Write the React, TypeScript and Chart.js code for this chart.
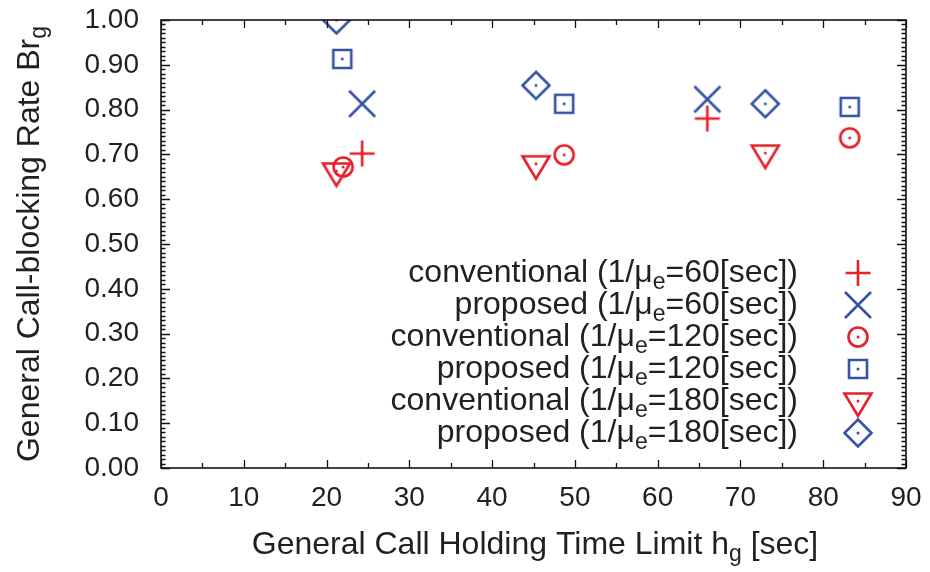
import React, { useEffect, useRef } from 'react';
import { Chart, registerables } from 'chart.js';

Chart.register(...registerables);

// ---- data ----
const seriesNames = ['conventional', 'proposed', 'conventional', 'proposed', 'conventional', 'proposed'];
const serviceTimes = ['60', '60', '120', '120', '180', '180'];

const conv60X = [24.3, 66.0];
const conv60Y = [0.702, 0.78];
const prop60X = [24.3, 66.0];
const prop60Y = [0.813, 0.823];
const conv120X = [22.0, 48.7, 83.2];
const conv120Y = [0.672, 0.699, 0.737];
const prop120X = [21.9, 48.7, 83.2];
const prop120Y = [0.913, 0.813, 0.806];
const conv180X = [21.2, 45.3, 73.0];
const conv180Y = [0.663, 0.679, 0.703];
const prop180X = [21.2, 45.3, 73.0];
const prop180Y = [1.0, 0.854, 0.813];

const xTickValues = [0, 10, 20, 30, 40, 50, 60, 70, 80, 90];
const xTickLabels = ['0', '10', '20', '30', '40', '50', '60', '70', '80', '90'];
const yTickValues = [0, 0.1, 0.2, 0.3, 0.4, 0.5, 0.6, 0.7, 0.8, 0.9, 1.0];
const yTickLabels = ['0.00', '0.10', '0.20', '0.30', '0.40', '0.50', '0.60', '0.70', '0.80', '0.90', '1.00'];

const xTitleMain = 'General Call Holding Time Limit h';
const xTitleSub = 'g';
const xTitleTail = ' [sec]';
const yTitleMain = 'General Call-blocking Rate Br';
const yTitleSub = 'g';

// ---- styles ----
const RED = '#e5202a';
const BLUE = '#3453a5';
const TEXT = '#231f20';
const FONT = '"Liberation Sans", Arial, Helvetica, sans-serif';
const markerKinds = ['plus', 'cross', 'circle', 'square', 'triDown', 'diamond'];
const markerColors = [RED, BLUE, RED, BLUE, RED, BLUE];

function makeMarker(kind: string, color: string): HTMLCanvasElement {
  const S = 36;
  const c = document.createElement('canvas');
  c.width = S;
  c.height = S;
  const g = c.getContext('2d')!;
  const m = S / 2;
  g.strokeStyle = color;
  g.fillStyle = color;
  g.lineWidth = 2.6;
  g.beginPath();
  if (kind === 'plus') {
    g.moveTo(m - 12.5, m); g.lineTo(m + 12.5, m);
    g.moveTo(m, m - 13); g.lineTo(m, m + 13);
    g.stroke();
    return c;
  }
  if (kind === 'cross') {
    g.moveTo(m - 13, m - 13); g.lineTo(m + 13, m + 13);
    g.moveTo(m + 13, m - 13); g.lineTo(m - 13, m + 13);
    g.stroke();
    return c;
  }
  if (kind === 'circle') {
    g.arc(m, m, 9.5, 0, Math.PI * 2);
  } else if (kind === 'square') {
    g.rect(m - 9, m - 9, 18, 18);
  } else if (kind === 'triDown') {
    g.moveTo(m - 13.5, m - 7.5);
    g.lineTo(m + 13.5, m - 7.5);
    g.lineTo(m, m + 15);
    g.closePath();
  } else if (kind === 'diamond') {
    g.moveTo(m, m - 13.5);
    g.lineTo(m + 13.5, m);
    g.lineTo(m, m + 13.5);
    g.lineTo(m - 13.5, m);
    g.closePath();
  }
  g.stroke();
  g.beginPath();
  g.arc(m, m, 1.5, 0, Math.PI * 2);
  g.fill();
  return c;
}

function drawSubText(
  ctx: CanvasRenderingContext2D,
  parts: { t: string; sub?: boolean }[],
  x: number,
  y: number,
  align: 'left' | 'center' | 'right',
  size: number,
) {
  const subSize = Math.round(size * 0.72);
  const widths = parts.map((p) => {
    ctx.font = `${p.sub ? subSize : size}px ${FONT}`;
    return ctx.measureText(p.t).width;
  });
  const total = widths.reduce((a, b) => a + b, 0);
  let cx = align === 'left' ? x : align === 'center' ? x - total / 2 : x - total;
  ctx.textAlign = 'left';
  ctx.textBaseline = 'middle';
  ctx.fillStyle = TEXT;
  parts.forEach((p, i) => {
    ctx.font = `${p.sub ? subSize : size}px ${FONT}`;
    ctx.fillText(p.t, cx, p.sub ? y + size * 0.3 : y);
    cx += widths[i];
  });
}

export default function App() {
  const ref = useRef<HTMLCanvasElement>(null);

  useEffect(() => {
    document.body.style.margin = '0';
    const markers = markerKinds.map((k, i) => makeMarker(k, markerColors[i]));
    const xs = [conv60X, prop60X, conv120X, prop120X, conv180X, prop180X];
    const ys = [conv60Y, prop60Y, conv120Y, prop120Y, conv180Y, prop180Y];

    const datasets = xs.map((xArr, i) => ({
      label: `${seriesNames[i]} (1/μe=${serviceTimes[i]}[sec])`,
      data: xArr.map((x, j) => ({ x, y: ys[i][j] })),
      pointStyle: markers[i] as any,
      borderColor: markerColors[i],
      backgroundColor: markerColors[i],
      showLine: false,
    }));

    const framePlugin = {
      id: 'frame',
      afterDraw(chart: any) {
        const { ctx, chartArea: a, scales } = chart;
        const xs2 = scales.x;
        const ys2 = scales.y;
        ctx.save();
        ctx.strokeStyle = '#111';
        ctx.lineWidth = 1.3;
        for (let i = 0; i <= 100; i++) {
          const py = Math.round(ys2.getPixelForValue(i / 100)) + 0.5;
          const len = i % 10 === 0 ? 9 : 4.5;
          ctx.beginPath();
          ctx.moveTo(a.left, py); ctx.lineTo(a.left + len, py);
          ctx.moveTo(a.right, py); ctx.lineTo(a.right - len, py);
          ctx.stroke();
        }
        for (let i = 0; i <= 18; i++) {
          const px = Math.round(xs2.getPixelForValue(i * 5)) + 0.5;
          const len = i % 2 === 0 ? 8 : 5;
          ctx.beginPath();
          ctx.moveTo(px, a.bottom); ctx.lineTo(px, a.bottom - len);
          ctx.moveTo(px, a.top); ctx.lineTo(px, a.top + len);
          ctx.stroke();
        }
        ctx.lineWidth = 1.6;
        ctx.strokeRect(a.left, a.top, a.right - a.left, a.bottom - a.top);
        ctx.restore();

        // legend
        ctx.save();
        const legendSize = 32;
        const textRight = 798;
        const symX = 858;
        const rowTop = 273;
        const rowStep = 32;
        chart.data.datasets.forEach((_: any, i: number) => {
          const y = rowTop + i * rowStep;
          drawSubText(
            ctx,
            [
              { t: `${seriesNames[i]} (1/μ` },
              { t: 'e', sub: true },
              { t: `=${serviceTimes[i]}[sec])` },
            ],
            textRight,
            y,
            'right',
            legendSize,
          );
          const mk = markers[i];
          ctx.drawImage(mk, symX - mk.width / 2, y - mk.height / 2);
        });

        // axis titles
        drawSubText(ctx, [{ t: xTitleMain }, { t: xTitleSub, sub: true }, { t: xTitleTail }], 535, 545, 'center', 32);
        ctx.translate(30, 244);
        ctx.rotate(-Math.PI / 2);
        drawSubText(ctx, [{ t: yTitleMain }, { t: yTitleSub, sub: true }], 0, 0, 'center', 32);
        ctx.restore();
      },
    };

    const tickFont = { family: FONT, size: 28 };
    const chart = new Chart(ref.current!, {
      type: 'scatter',
      data: { datasets: datasets as any },
      options: {
        animation: false,
        responsive: false,
        layout: { padding: { top: 20, right: 24, left: 0, bottom: 0 } },
        plugins: { legend: { display: false }, tooltip: { enabled: false } },
        scales: {
          x: {
            type: 'linear',
            min: 0,
            max: 90,
            afterBuildTicks: (s: any) => {
              s.ticks = xTickValues.map((v) => ({ value: v }));
            },
            afterFit: (s: any) => {
              s.height = 104;
              s.paddingLeft = 0;
              s.paddingRight = 0;
              s.paddingTop = 0;
              s.paddingBottom = 0;
            },
            ticks: {
              padding: 13,
              color: TEXT,
              font: tickFont,
              maxRotation: 0,
              autoSkip: false,
              callback: (_v: any, i: number) => xTickLabels[i],
            },
            grid: { display: false, drawTicks: false },
            border: { display: false },
          },
          y: {
            type: 'linear',
            min: 0,
            max: 1,
            afterBuildTicks: (s: any) => {
              s.ticks = yTickValues.map((v) => ({ value: v }));
            },
            afterFit: (s: any) => {
              s.width = 161;
              s.paddingLeft = 0;
              s.paddingRight = 0;
              s.paddingTop = 0;
              s.paddingBottom = 0;
            },
            ticks: {
              padding: 22,
              color: TEXT,
              font: tickFont,
              autoSkip: false,
              callback: (_v: any, i: number) => yTickLabels[i],
            },
            grid: { display: false, drawTicks: false },
            border: { display: false },
          },
        },
      },
      plugins: [framePlugin],
    });
    return () => chart.destroy();
  }, []);

  return (
    <div style={{ width: 930, height: 572, background: '#fff' }}>
      <canvas ref={ref} width={930} height={572} style={{ display: 'block', width: 930, height: 572 }} />
    </div>
  );
}
